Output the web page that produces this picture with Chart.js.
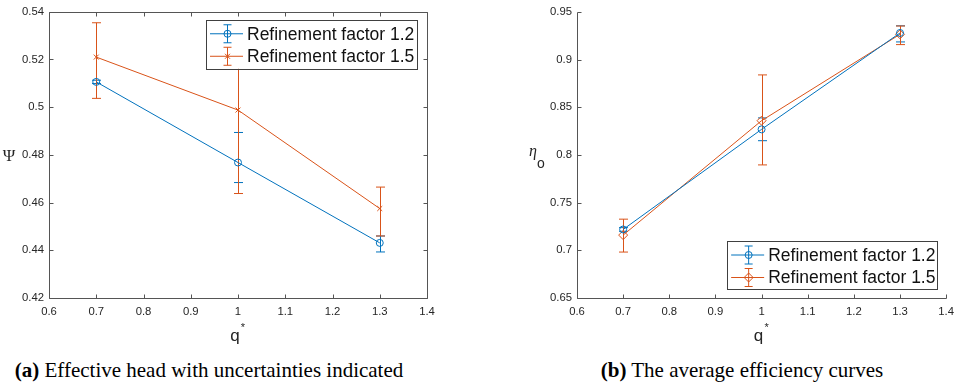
<!DOCTYPE html>
<html>
<head>
<meta charset="utf-8">
<script src="https://cdn.jsdelivr.net/npm/chart.js@4/dist/chart.umd.min.js"></script>
<style>
  body { margin: 0; background: #fff; width: 961px; height: 389px; position: relative; overflow: hidden; }
  canvas { position: absolute; top: 0; }
  #psiChart { left: 0; }
  #etaChart { left: 480px; }
  .caption { position: absolute; top: 360px; font-family: "Liberation Serif", "Times New Roman", serif;
             font-size: 21px; line-height: 1; color: #000; text-align: center; white-space: nowrap; }
</style>
</head>
<body>
<canvas id="psiChart" width="480" height="345"></canvas>
<canvas id="etaChart" width="481" height="345"></canvas>
<div class="caption" style="left:0;width:418px"><b>(a)</b> Effective head with uncertainties indicated</div>
<div class="caption" style="left:542px;width:400px"><b>(b)</b> The average efficiency curves</div>
<script>
const qStar = [0.7, 1.0, 1.3];
const seriesNames = ["Refinement factor 1.2", "Refinement factor 1.5"];

// head coefficient, with lower/upper bounds of the uncertainty
const psi12 = [0.5106, 0.4768, 0.4431];
const psi12Low = [0.5099, 0.4684, 0.4393];
const psi12High = [0.5113, 0.4894, 0.4460];
const psi15 = [0.5210, 0.4988, 0.4575];
const psi15Low = [0.5037, 0.4638, 0.4460];
const psi15High = [0.5354, 0.5338, 0.4665];

// average efficiency
const eta12 = [0.7219, 0.8269, 0.9280];
const eta12Low = [0.7200, 0.8150, 0.9186];
const eta12High = [0.7238, 0.8389, 0.9355];
const eta15 = [0.7160, 0.8360, 0.9266];
const eta15Low = [0.6982, 0.7896, 0.9158];
const eta15High = [0.7327, 0.8840, 0.9353];

const xTicks = [0.6, 0.7, 0.8, 0.9, 1.0, 1.1, 1.2, 1.3, 1.4];
const psiTicks = [0.42, 0.44, 0.46, 0.48, 0.5, 0.52, 0.54];
const etaTicks = [0.65, 0.7, 0.75, 0.8, 0.85, 0.9, 0.95];

const BLUE = "#0072BD";
const ORANGE = "#D95319";
const AXIS = "#555555";
const TEXT = "#262626";

const fmt = v => String(+(+v).toFixed(2));
const pts = (xs, ys) => xs.map((x, i) => ({ x: x, y: ys[i] }));

function series(label, ys, low, high, color, style) {
  return {
    label: label, data: pts(qStar, ys), low: low, high: high,
    borderColor: color, backgroundColor: "transparent", borderWidth: 1,
    pointStyle: style, pointRadius: style === "rectRot" ? 4.5 : 3.5,
    pointBorderColor: color, pointBackgroundColor: "transparent", pointBorderWidth: 1,
    tension: 0
  };
}

// error bars, inward ticks, axis box, legend and axis labels
const decor = {
  id: "decor",
  beforeDatasetsDraw(chart) {
    const { ctx, scales: { x, y } } = chart;
    ctx.save();
    ctx.lineWidth = 1;
    chart.data.datasets.forEach(ds => {
      ctx.strokeStyle = ds.borderColor;
      ds.data.forEach((p, i) => {
        const px = Math.round(x.getPixelForValue(p.x)) + 0.5;
        const y0 = y.getPixelForValue(ds.low[i]);
        const y1 = y.getPixelForValue(ds.high[i]);
        ctx.beginPath();
        ctx.moveTo(px, y0); ctx.lineTo(px, y1);
        ctx.moveTo(px - 4.5, y0); ctx.lineTo(px + 4.5, y0);
        ctx.moveTo(px - 4.5, y1); ctx.lineTo(px + 4.5, y1);
        ctx.stroke();
      });
    });
    ctx.restore();
  },
  afterDraw(chart) {
    const { ctx, chartArea: a, scales: { x, y } } = chart;
    const o = chart.options.plugins.decor;
    const L = Math.round(a.left) + 0.5, R = Math.round(a.right) + 0.5;
    const T = Math.round(a.top) + 0.5, B = Math.round(a.bottom) + 0.5;
    ctx.save();
    ctx.strokeStyle = AXIS;
    ctx.lineWidth = 1;
    ctx.beginPath();
    ctx.moveTo(L, T); ctx.lineTo(L, B); ctx.lineTo(R, B);
    if (o.box) { ctx.lineTo(R, T); ctx.lineTo(L, T); }
    x.ticks.forEach(t => {
      const px = Math.round(x.getPixelForValue(t.value)) + 0.5;
      ctx.moveTo(px, B); ctx.lineTo(px, B - 4);
      if (o.box) { ctx.moveTo(px, T); ctx.lineTo(px, T + 4); }
    });
    y.ticks.forEach(t => {
      const py = Math.round(y.getPixelForValue(t.value)) + 0.5;
      ctx.moveTo(L, py); ctx.lineTo(L + 4, py);
      if (o.box) { ctx.moveTo(R, py); ctx.lineTo(R - 4, py); }
    });
    ctx.stroke();

    // legend
    const lg = o.legend;
    const bx = lg.right ? a.right - lg.right - lg.w : a.left + lg.left;
    const by = lg.top != null ? a.top + lg.top : a.bottom - lg.bottom - lg.h;
    ctx.fillStyle = "#fff";
    ctx.fillRect(bx, by, lg.w, lg.h);
    ctx.strokeStyle = "#404040";
    ctx.strokeRect(Math.round(bx) + 0.5, Math.round(by) + 0.5, lg.w, lg.h);
    ctx.font = "17.5px 'Liberation Sans', Arial, sans-serif";
    ctx.textBaseline = "middle";
    chart.data.datasets.forEach((ds, i) => {
      const cy = by + 14 + i * 22.5;
      const cx = bx + 21;
      ctx.strokeStyle = ds.borderColor;
      ctx.beginPath();
      ctx.moveTo(bx + 4, cy); ctx.lineTo(bx + 37, cy);
      ctx.moveTo(cx + 0.5, cy - 9); ctx.lineTo(cx + 0.5, cy + 9);
      ctx.moveTo(cx - 3.5, cy - 9); ctx.lineTo(cx + 4.5, cy - 9);
      ctx.moveTo(cx - 3.5, cy + 9); ctx.lineTo(cx + 4.5, cy + 9);
      ctx.stroke();
      ctx.fillStyle = "rgba(0,0,0,0)";
      Chart.helpers.drawPoint(ctx, { pointStyle: ds.pointStyle, radius: ds.pointRadius, borderWidth: 1 }, cx + 0.5, cy);
      ctx.fillStyle = "#111";
      ctx.fillText(ds.label, bx + 41, cy + 1);
    });

    // axis labels
    ctx.fillStyle = TEXT;
    ctx.textAlign = "center";
    ctx.textBaseline = "alphabetic";
    ctx.font = "17px 'Liberation Sans', Arial, sans-serif";
    const qx = (a.left + a.right) / 2 - 3;
    ctx.fillText("q", qx, a.bottom + 43);
    ctx.font = "11px 'Liberation Sans', Arial, sans-serif";
    ctx.fillText("*", qx + 8, a.bottom + 33);
    if (o.ylabel === "psi") {
      ctx.font = "17px 'Liberation Serif', serif";
      ctx.fillText("Ψ", a.left - 40, (a.top + a.bottom) / 2 + 6);
    } else {
      ctx.font = "italic 16px 'Liberation Serif', serif";
      ctx.fillText("η", a.left - 44, (a.top + a.bottom) / 2 + 1);
      ctx.font = "14px 'Liberation Sans', Arial, sans-serif";
      ctx.fillText("o", a.left - 36, (a.top + a.bottom) / 2 + 13);
    }
    ctx.restore();
  }
};

function makeChart(id, datasets, yTicks, opts) {
  const tickFont = { family: "'Liberation Sans', Arial, sans-serif", size: 11.3 };
  return new Chart(document.getElementById(id), {
    type: "line",
    data: { datasets: datasets },
    options: {
      responsive: false,
      animation: false,
      layout: { padding: opts.padding },
      plugins: { legend: { display: false }, tooltip: { enabled: false }, decor: opts.decor },
      scales: {
        x: {
          type: "linear", min: xTicks[0], max: xTicks[xTicks.length - 1],
          afterBuildTicks: s => { s.ticks = xTicks.map(v => ({ value: v })); },
          afterFit: s => { s.height = 47; },
          grid: { display: false, drawTicks: false }, border: { display: false },
          ticks: { padding: 7, color: TEXT, font: tickFont, maxRotation: 0, autoSkip: false, callback: fmt }
        },
        y: {
          type: "linear", min: yTicks[0], max: yTicks[yTicks.length - 1],
          afterBuildTicks: s => { s.ticks = yTicks.map(v => ({ value: v })); },
          afterFit: s => { s.width = opts.yWidth; },
          grid: { display: false, drawTicks: false }, border: { display: false },
          ticks: { padding: 5, color: TEXT, font: tickFont, autoSkip: false, callback: fmt }
        }
      }
    },
    plugins: [decor]
  });
}

makeChart("psiChart", [
  series(seriesNames[0], psi12, psi12Low, psi12High, BLUE, "circle"),
  series(seriesNames[1], psi15, psi15Low, psi15High, ORANGE, "crossRot")
], psiTicks, {
  padding: { top: 10, right: 53, left: 0, bottom: 0 }, yWidth: 49,
  decor: { box: true, ylabel: "psi", legend: { right: 10, top: 8, w: 211, h: 49 } }
});

makeChart("etaChart", [
  series(seriesNames[0], eta12, eta12Low, eta12High, BLUE, "circle"),
  series(seriesNames[1], eta15, eta15Low, eta15High, ORANGE, "rectRot")
], etaTicks, {
  padding: { top: 12, right: 10, left: 0, bottom: 0 }, yWidth: 97,
  decor: { box: false, ylabel: "eta", legend: { right: 9, bottom: 9, w: 210, h: 48 } }
});
</script>
</body>
</html>
